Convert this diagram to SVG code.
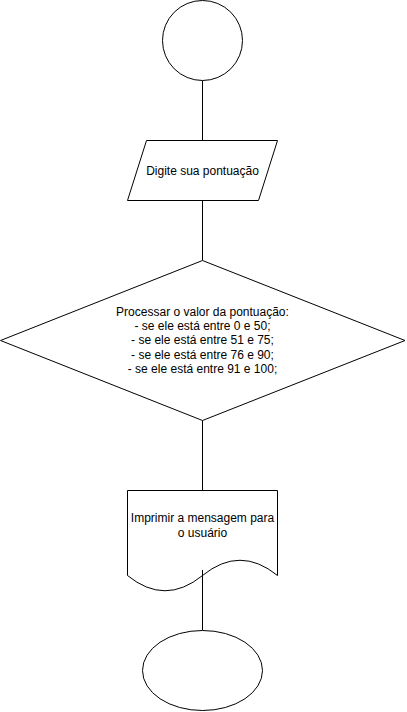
<svg xmlns="http://www.w3.org/2000/svg" width="407" height="712" viewBox="0 0 407 712">
<style>
.s{fill:#ffffff;stroke:#000000;stroke-width:1}
.c{fill:none;stroke:#000000;stroke-width:1}
.t{font-family:"Liberation Sans",Arial,sans-serif;font-size:12px;fill:#000000;text-anchor:middle}
</style>
<rect width="407" height="712" fill="#ffffff"/>
<g id="connectors">
<line class="c" x1="202.5" y1="80.5" x2="202.5" y2="140.5"/>
<line class="c" x1="202.5" y1="200.5" x2="202.5" y2="260.5"/>
<line class="c" x1="202.5" y1="420.5" x2="202.5" y2="490.5"/>
</g>
<g id="start">
<circle class="s" cx="202.5" cy="40.5" r="40"/>
</g>
<g id="input">
<polygon class="s" points="146.5,140.5 277.5,140.5 258.5,200.5 127.5,200.5"/>
<text class="t" x="202.5" y="174.5">Digite sua pontuação</text>
</g>
<g id="decision">
<polygon class="s" points="202.5,260.5 405,340.5 202.5,420.5 0.5,340.5"/>
<text class="t" x="202.5" y="316">Processar o valor da pontuação:</text>
<text class="t" x="202.5" y="330.2">- se ele está entre 0 e 50;</text>
<text class="t" x="202.5" y="344.4">- se ele está entre 51 e 75;</text>
<text class="t" x="202.5" y="358.6">- se ele está entre 76 e 90;</text>
<text class="t" x="202.5" y="372.8">- se ele está entre 91 e 100;</text>
</g>
<g id="output">
<path class="s" d="M127.5,490.5 L277.5,490.5 L277.5,575.5 Q240,545 202.5,575.5 Q165,606 127.5,575.5 Z"/>
<text class="t" x="202.5" y="522">Imprimir a mensagem para</text>
<text class="t" x="202.5" y="537">o usuário</text>
</g>
<g id="connectors-top">
<line class="c" x1="202.5" y1="570" x2="202.5" y2="630.5"/>
</g>
<g id="end">
<ellipse class="s" cx="202.5" cy="670.5" rx="60" ry="40"/>
</g>
</svg>
